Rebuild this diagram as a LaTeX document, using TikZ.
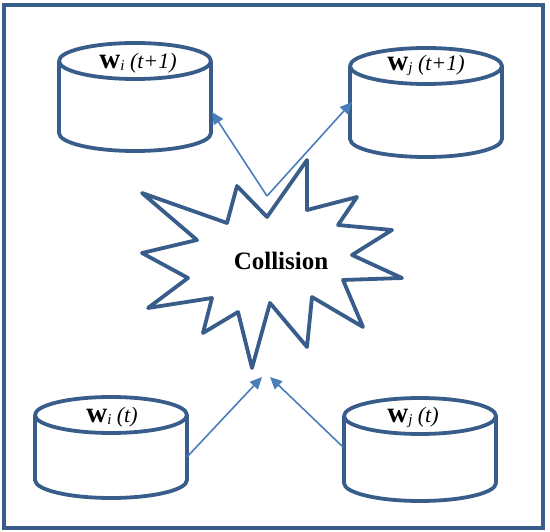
\documentclass[tikz,border=0pt]{standalone}
\usepackage{fontspec}
\setmainfont{Liberation Serif}
\usetikzlibrary{arrows.meta}
\definecolor{shapeblue}{HTML}{385D8A}
\definecolor{arrowblue}{HTML}{4A7EBB}
\tikzset{
  drum/.style={draw=shapeblue, line width=3.8pt, line join=round},
  link/.style={draw=arrowblue, line width=1.6pt, -{Triangle[length=12pt,width=11pt]}},
  lbl/.style={inner sep=0pt, font=\fontsize{22}{22}\selectfont}
}
\newcommand{\wlabel}[2]{{\fontsize{29}{29}\selectfont\bfseries w}\raisebox{-2pt}{\fontsize{15}{15}\selectfont\itshape #1} \textit{#2}}

\begin{document}
\begin{tikzpicture}[x=1pt,y=-1pt]

    \useasboundingbox (0,0) rectangle (550,532);
    \draw[draw=shapeblue, line width=3.5pt] (4,5) rectangle (543,528);

    % the four drums
    \foreach \cx/\cy/\h in {135/61/72, 426/66/73, 111/415/65, 420/416/67} {
        \draw[drum] ({\cx-76},\cy) -- ({\cx-76},{\cy+\h})
            arc[start angle=180, end angle=360, x radius=76pt, y radius=18pt]
            -- ({\cx+76},\cy);
        \draw[drum] (\cx,\cy) ellipse [x radius=76pt, y radius=18pt];
    }

    \node[lbl] (wi1) at (138,63) {\wlabel{i}{(t+1)}};
    \node[lbl] (wj1) at (426,65) {\wlabel{j}{(t+1)}};
    \node[lbl] (wi0) at (112,417) {\wlabel{i}{(t)}};
    \node[lbl] (wj0) at (413,417) {\wlabel{j}{(t)}};

    % the burst
    \draw[drum] (142,193) -- (227,223) -- (237,186) -- (267,217) -- (307,160)
        -- (307,210) -- (357,197) -- (338,225) -- (392,230) -- (352,255)
        -- (402,278) -- (343,280) -- (363,327) -- (312,297) -- (307,347)
        -- (270,303) -- (252,368) -- (238,312) -- (203,333) -- (212,298)
        -- (148,308) -- (188,278) -- (142,253) -- (197,240) -- cycle;
    \node[font=\fontsize{25}{25}\selectfont\bfseries] (burst) at (281,261) {Collision};

    \coordinate (burst top) at (267,196);
    \coordinate (wi1 side) at (212,112);
    \coordinate (wj1 side) at (352,102);
    \coordinate (hit left) at (262,377);
    \coordinate (hit right) at (270,377);
    \coordinate (wi0 side) at (187,457);
    \coordinate (wj0 side) at (343,447);

    \draw[link] (burst top) -- (wi1 side);
    \draw[link] (burst top) -- (wj1 side);
    \draw[link] (wi0 side) -- (hit left);
    \draw[link] (wj0 side) -- (hit right);

\end{tikzpicture}
\end{document}
